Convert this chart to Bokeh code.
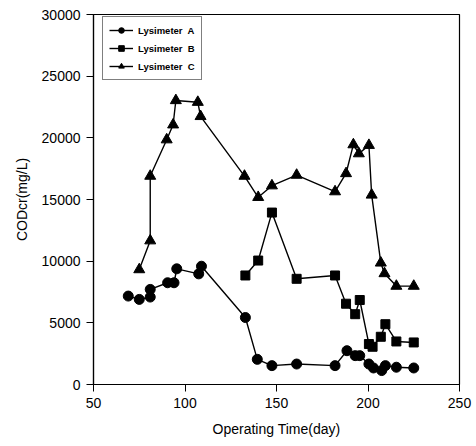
from bokeh.plotting import figure
from bokeh.models import Legend, LegendItem, FixedTicker
from bokeh.embed import file_html
from bokeh.resources import INLINE

a_days = [69, 75, 81, 81, 90.5, 94, 95.5, 107.5, 109, 133, 139.5, 147.5, 161, 182, 188.5, 193, 195.5, 200.5, 203, 207.5, 209.5, 215.5, 225]
a_vals = [7170, 6900, 7090, 7710, 8250, 8250, 9380, 8970, 9590, 5430, 2040, 1530, 1660, 1530, 2740, 2340, 2340, 1660, 1340, 1130, 1530, 1400, 1340]

b_days = [133, 140, 147.5, 161, 182, 188, 193, 195.5, 200.5, 202.5, 207, 209.5, 215.5, 225]
b_vals = [8840, 10050, 13940, 8570, 8840, 6550, 5700, 6850, 3280, 3060, 3870, 4890, 3490, 3410]

c_days = [75, 81, 81, 90, 93.5, 95, 107, 108.5, 132.5, 140, 147.5, 161, 182, 188, 192, 195, 200.5, 202, 207, 209, 215.5, 225]
c_vals = [9320, 11660, 16900, 19850, 21060, 23030, 22890, 21740, 16900, 15180, 16120, 16980, 15640, 17110, 19450, 18720, 19400, 15370, 9860, 9000, 7980, 7980]

x_ticks = [50, 100, 150, 200, 250]
y_ticks = [0, 5000, 10000, 15000, 20000, 25000, 30000]
labels = ["Lysimeter  A", "Lysimeter  B", "Lysimeter  C"]

FONT = "Liberation Sans"

p = figure(width=476, height=446, x_range=(50, 250), y_range=(0, 30000),
           output_backend="svg", toolbar_location=None,
           min_border_left=93, min_border_right=17, min_border_top=14, min_border_bottom=62)

p.xgrid.visible = False
p.ygrid.visible = False
p.outline_line_color = "black"
p.outline_line_width = 1.2
p.background_fill_color = "white"
p.border_fill_color = "white"

for ax in (p.xaxis[0], p.yaxis[0]):
    ax.major_label_text_font = FONT
    ax.major_label_text_font_size = "14px"
    ax.major_label_text_color = "black"
    ax.axis_label_text_font = FONT
    ax.axis_label_text_font_size = "14px"
    ax.axis_label_text_font_style = "normal"
    ax.axis_label_text_color = "black"
    ax.axis_line_color = "black"
    ax.axis_line_width = 1.2
    ax.major_tick_line_color = "black"
    ax.major_tick_out = 7
    ax.major_tick_in = 0
    ax.minor_tick_line_color = None

p.xaxis.ticker = FixedTicker(ticks=x_ticks)
p.yaxis.ticker = FixedTicker(ticks=y_ticks)
p.xaxis.axis_label = "Operating Time(day)"
p.yaxis.axis_label = "CODcr(mg/L)"
p.xaxis.major_label_standoff = 6
p.xaxis.axis_label_standoff = 10
p.yaxis.major_label_standoff = 6
p.yaxis.axis_label_standoff = 9

series = [(a_days, a_vals, "circle", 10), (b_days, b_vals, "square", 9), (c_days, c_vals, "triangle", 11)]
items = []
for (xs, ys, mk, sz), lab in zip(series, labels):
    l = p.line(xs, ys, line_color="black", line_width=1.4)
    s = p.scatter(xs, ys, marker=mk, size=sz, fill_color="black", line_color="black")
    items.append(LegendItem(label=lab, renderers=[l, s]))

legend = Legend(items=items, location=(9, 304))
legend.label_text_font = FONT
legend.label_text_font_size = "9.5px"
legend.label_text_font_style = "bold"
legend.label_text_color = "black"
legend.border_line_color = "black"
legend.border_line_width = 1
legend.glyph_width = 24
legend.glyph_height = 14
legend.spacing = 4
legend.padding = 6
legend.margin = 0
legend.label_standoff = 5
legend.label_height = 14
legend.background_fill_alpha = 1
p.add_layout(legend)

open("out.html", "w").write(file_html(p, INLINE))
